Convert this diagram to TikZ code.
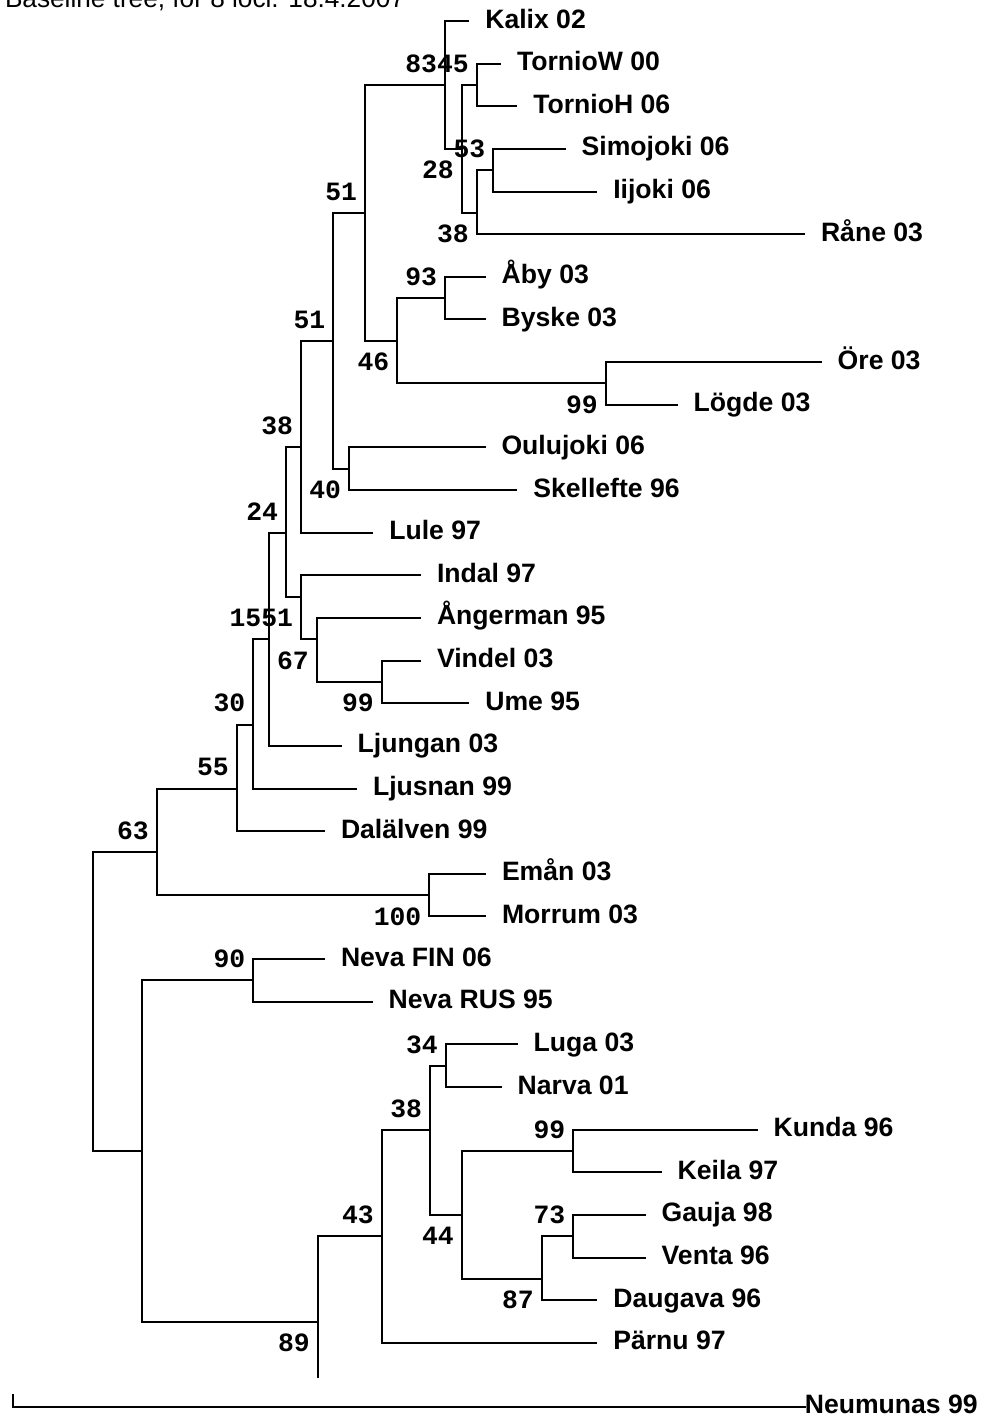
\documentclass[tikz,border=0pt]{standalone}
\usepackage{fontspec}
\setmainfont{Liberation Sans}
\newfontfamily\treeMonoFont{Liberation Mono}
\tikzset{
  tree diagram/.style={
    x=0.5pt, y=-21.32pt, line width=1pt, line join=miter,
    every node/.style={inner sep=0pt, outer sep=0pt, text=black}
  },
  tree branch/.style={draw=black},
  tree leaf/.style={anchor=base west, xshift=8pt, yshift=-3.5pt,
    font=\fontsize{13.3}{16}\selectfont\bfseries},
  tree boot/.style={anchor=east,
    font=\fontsize{13.2}{16}\selectfont\treeMonoFont\bfseries},
  tree title/.style={anchor=base west, font=\fontsize{13.1}{16}\selectfont}
}

\begin{document}
\begin{tikzpicture}[tree diagram]
    \useasboundingbox (0,-0.4925) rectangle (986,32.786);
    \node[tree title] (title) at (5,-0.32) {Baseline tree, for 8 loci. 18.4.2007};
    \foreach \leafName/\leafX/\leafRow/\leafText in {
      kalix/469.3/0/Kalix 02, tornioW/501/1/TornioW 00,
      tornioH/517.3/2/TornioH 06, simojoki/565.7/3/Simojoki 06,
      iijoki/597.3/4/Iijoki 06, rane/805/5/Råne 03,
      aby/485.7/6/Åby 03, byske/485.7/7/Byske 03,
      ore/821.7/8/Öre 03, logde/677.7/9/Lögde 03,
      oulujoki/485.5/10/Oulujoki 06, skellefte/517.3/11/Skellefte 96,
      lule/373.3/12/Lule 97, indal/421/13/Indal 97,
      angerman/421/14/Ångerman 95, vindel/421/15/Vindel 03,
      ume/469.3/16/Ume 95, ljungan/341.7/17/Ljungan 03,
      ljusnan/357/18/Ljusnan 99, dalalven/325/19/Dalälven 99,
      eman/486/20/Emån 03, morrum/486/21/Morrum 03,
      nevaFin/325/22/Neva FIN 06, nevaRus/372.7/23/Neva RUS 95,
      luga/517.7/24/Luga 03, narva/501.7/25/Narva 01,
      kunda/757.7/26/Kunda 96, keila/661.7/27/Keila 97,
      gauja/645.7/28/Gauja 98, venta/645.7/29/Venta 96,
      daugava/597.3/30/Daugava 96, parnu/597.3/31/Pärnu 97} {
      \coordinate (\leafName) at (\leafX,\leafRow);
      \node[tree leaf] (\leafName-label) at (\leafName) {\leafText};
    }
    \coordinate (neumunas) at (806,32.5);
    \node[tree leaf, xshift=-8.6pt] (neumunas-label) at (neumunas) {Neumunas 99};
    \foreach \clName/\clX/\clRow/\bootRow/\bootVal in {
      nKalix/445/1.5/1/83, nTornio/476.7/1.5/1/45,
      nTorRane/461.7/3/3.5/28, nSimo/493.3/3.5/3/53,
      nRane/476.7/4.5/5/38, nNorth/365/4.5/4/51,
      nAby/445/6.5/6/93, nAbyOre/397.3/7.5/8/46,
      nOre/605.7/8.5/9/99, nNorthOulu/333.3/7.5/7/51,
      nOulu/349/10.5/11/40, nLule/301/10/9.5/38,
      nLuleIndal/286/12/11.5/24, nIndal/301/13.5/14/51,
      nLjungan/269.3/14.5/14/15, nAnger/316.7/14.5/15/67,
      nVindel/381.7/15.5/16/99, nLjusnan/253.3/16.5/16/30,
      nDal/236.7/18/17.5/55, nSweden/156.7/19.5/19/63,
      nEman/429.3/20.5/21/100, nNeva/253.3/22.5/22/90,
      nLuga/445.7/24.5/24/34, nLugaDaug/430/26/25.5/38,
      nKunda/573.3/26.5/26/99, nParnu/381.7/28.5/28/43,
      nGauja/573.3/28.5/28/73, nKundaDaug/461.7/28/28.5/44,
      nDaugava/541.7/29.5/30/87, nBaltic/317.7/30.5/31/89} {
      \coordinate (\clName) at (\clX,\clRow);
      \node[tree boot] (\clName-boot) at (\clX-8,\bootRow) {\bootVal};
    }
    \coordinate (nEast) at (141.7,26.5);
    \coordinate (nRoot) at (93.3,23);
    \coordinate (nBalticEnd) at (317.7,31.83);
    \coordinate (rootStub) at (13.3,32.21);
    \foreach \treeParent/\treeChild in {
      nRoot/nSweden, nRoot/nEast,
      nSweden/nDal, nSweden/nEman,
      nDal/nLjusnan, nDal/dalalven,
      nLjusnan/nLjungan, nLjusnan/ljusnan,
      nLjungan/nLuleIndal, nLjungan/ljungan,
      nLuleIndal/nLule, nLuleIndal/nIndal,
      nLule/nNorthOulu, nLule/lule,
      nNorthOulu/nNorth, nNorthOulu/nOulu,
      nNorth/nKalix, nNorth/nAbyOre,
      nKalix/kalix, nKalix/nTorRane,
      nTorRane/nTornio, nTorRane/nRane,
      nTornio/tornioW, nTornio/tornioH,
      nRane/nSimo, nRane/rane,
      nSimo/simojoki, nSimo/iijoki,
      nAbyOre/nAby, nAbyOre/nOre,
      nAby/aby, nAby/byske,
      nOre/ore, nOre/logde,
      nOulu/oulujoki, nOulu/skellefte,
      nIndal/indal, nIndal/nAnger,
      nAnger/angerman, nAnger/nVindel,
      nVindel/vindel, nVindel/ume,
      nEman/eman, nEman/morrum,
      nEast/nNeva, nEast/nBaltic,
      nNeva/nevaFin, nNeva/nevaRus,
      nBaltic/nParnu, nBaltic/nBalticEnd,
      nParnu/nLugaDaug, nParnu/parnu,
      nLugaDaug/nLuga, nLugaDaug/nKundaDaug,
      nLuga/luga, nLuga/narva,
      nKundaDaug/nKunda, nKundaDaug/nDaugava,
      nKunda/kunda, nKunda/keila,
      nDaugava/nGauja, nDaugava/daugava,
      nGauja/gauja, nGauja/venta,
      rootStub/neumunas} {
      \draw[tree branch] (\treeParent) |- (\treeChild);
    }
  \end{tikzpicture}
\end{document}
